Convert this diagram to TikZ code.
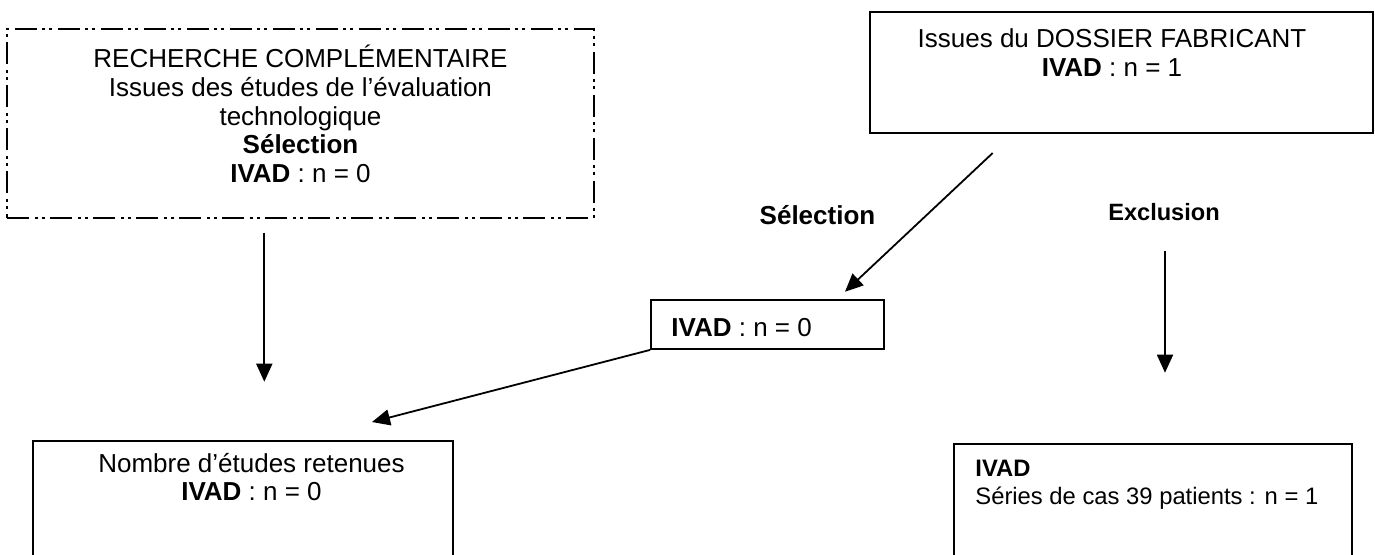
\documentclass[tikz,border=0pt]{standalone}
\usepackage{fontspec}
\setmainfont{Liberation Sans}
\usetikzlibrary{arrows.meta}

\tikzset{
  boite/.style={draw, line width=0.9pt, inner sep=0pt},
  pointille/.style={boite, dash pattern=on 11pt off 3pt on 1.5pt off 2pt on 1.5pt off 2.5pt},
  texte/.style={inner sep=0pt, align=center, font=\fontsize{13}{14.4}\selectfont},
  fleche/.style={->, line width=0.9pt}
}

\begin{document}
\begin{tikzpicture}[x=0.5pt, y=-0.5pt, >={Triangle[length=9pt,width=8pt]}]
	\path[use as bounding box, clip] (0,0) rectangle (1375,554);
	\node[pointille, minimum width=293.5pt, minimum height=94.5pt] (recherche) at (300.5,123.5) {};
	\node[boite, minimum width=251.5pt, minimum height=60.5pt] (dossier) at (1121.5,72.5) {};
	\node[boite, minimum width=116.5pt, minimum height=24.5pt] (selbox) at (767.5,324.5) {};
	\node[boite, minimum width=210pt, minimum height=69.5pt] (retenues) at (243,510.5) {};
	\node[boite, minimum width=199pt, minimum height=68pt] (serie) at (1153,512) {};
	\node[texte, anchor=north] (recherchetxt) at (300.5,44.5) {RECHERCHE COMPLÉMENTAIRE\\ Issues des études de l’évaluation\\ technologique\\ \textbf{Sélection}\\ \textbf{IVAD} : n = 0};
	\node[texte, anchor=north, font=\fontsize{13}{14.5}\selectfont] (dossiertxt) at (1112,28.5) {Issues du DOSSIER FABRICANT\\ \textbf{IVAD} : n = 1};
	\node[texte, anchor=base west] (seltxt) at (671,336) {\textbf{IVAD} : n = 0};
	\node[texte, anchor=north] (retenuestxt) at (251.5,452.5) {Nombre d’études retenues\\ \textbf{IVAD} : n = 0};
	\node[texte, anchor=north west, align=left, font=\fontsize{11.9}{14}\selectfont] (serietxt) at (975,459.5) {\textbf{IVAD}\\ Séries de cas 39 patients : n = 1};
	\node[texte, anchor=base, font=\fontsize{13}{14.4}\selectfont\bfseries] (selection) at (817.5,224) {Sélection};
	\node[texte, anchor=base, font=\fontsize{11.8}{14}\selectfont\bfseries] (exclusion) at (1164,220) {Exclusion};
	\coordinate (g1) at (264.3,232.7);
	\coordinate (g2) at (264.3,381.7);
	\coordinate (d1) at (992.7,153);
	\coordinate (d2) at (845,291.7);
	\coordinate (r1) at (372,422);
	\coordinate (e1) at (1165,251);
	\coordinate (e2) at (1165,372.7);
	\draw[fleche] (g1) -- (g2);
	\draw[fleche] (d1) -- (d2);
	\draw[fleche] (selbox.south west) -- (r1);
	\draw[fleche] (e1) -- (e2);
\end{tikzpicture}
\end{document}
